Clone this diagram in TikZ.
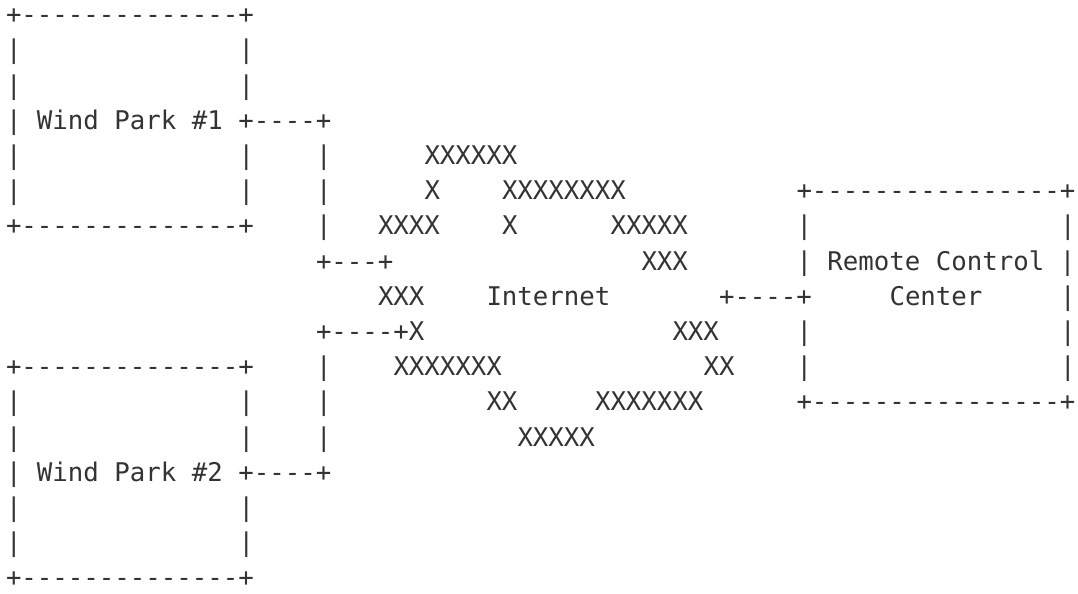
\documentclass[tikz,border=0pt]{standalone}
\usepackage{fontspec}
\setmonofont{DejaVu Sans Mono}
\usepackage{tikz}
\definecolor{inkGray}{HTML}{333333}

\begin{document}
\begin{tikzpicture}[%%
  x=7.75pt,y=-17.6pt,%%
  charStyle/.style={anchor=base west,inner sep=0pt,outer sep=0pt,%%
    text=inkGray,font=\ttfamily\fontsize{12.87pt}{15pt}\selectfont}%%
]
%%
%% Page frame, with the margins of the text block.
\path[use as bounding box,fill=white] (-3pt,-5.8pt) rectangle (536pt,-302.8pt);
%%
%% Wind park 1 box and its link.
\node[charStyle] (parkOneTop) at (0,1) {+--------------+};
\node[charStyle] (parkOneLeftA) at (0,2) {|};
\node[charStyle] (parkOneRightA) at (15,2) {|};
\node[charStyle] (parkOneLeftB) at (0,3) {|};
\node[charStyle] (parkOneRightB) at (15,3) {|};
\node[charStyle] (parkOneLabel) at (0,4) {| Wind Park \#1 +----+};
\node[charStyle] (parkOneLeftC) at (0,5) {|};
\node[charStyle] (parkOneRightC) at (15,5) {|};
\node[charStyle] (linkOneA) at (20,5) {|};
\node[charStyle] (parkOneLeftD) at (0,6) {|};
\node[charStyle] (parkOneRightD) at (15,6) {|};
\node[charStyle] (linkOneB) at (20,6) {|};
\node[charStyle] (parkOneBottom) at (0,7) {+--------------+};
\node[charStyle] (linkOneC) at (20,7) {|};
\node[charStyle] (linkOneEnd) at (20,8) {+---+};
%%
%% Internet cloud.
\node[charStyle] (cloudA) at (27,5) {XXXXXX};
\node[charStyle] (cloudB) at (27,6) {X};
\node[charStyle] (cloudC) at (32,6) {XXXXXXXX};
\node[charStyle] (cloudD) at (24,7) {XXXX};
\node[charStyle] (cloudE) at (32,7) {X};
\node[charStyle] (cloudF) at (39,7) {XXXXX};
\node[charStyle] (cloudG) at (41,8) {XXX};
\node[charStyle] (cloudH) at (24,9) {XXX};
\node[charStyle] (internet) at (31,9) {Internet};
\node[charStyle] (cloudI) at (43,10) {XXX};
\node[charStyle] (cloudJ) at (25,11) {XXXXXXX};
\node[charStyle] (cloudK) at (45,11) {XX};
\node[charStyle] (cloudL) at (31,12) {XX};
\node[charStyle] (cloudM) at (38,12) {XXXXXXX};
\node[charStyle] (cloudN) at (33,13) {XXXXX};
%%
%% Remote control center box and its link.
\node[charStyle] (centerTop) at (51,6) {+----------------+};
\node[charStyle] (centerLeftA) at (51,7) {|};
\node[charStyle] (centerRightA) at (68,7) {|};
\node[charStyle] (centerLabel) at (51,8) {| Remote Control |};
\node[charStyle] (centerLink) at (46,9) {+----+};
\node[charStyle] (centerLabelB) at (57,9) {Center};
\node[charStyle] (centerRightB) at (68,9) {|};
\node[charStyle] (centerLeftC) at (51,10) {|};
\node[charStyle] (centerRightC) at (68,10) {|};
\node[charStyle] (centerLeftD) at (51,11) {|};
\node[charStyle] (centerRightD) at (68,11) {|};
\node[charStyle] (centerBottom) at (51,12) {+----------------+};
%%
%% Wind park 2 box and its link.
\node[charStyle] (linkTwoEnd) at (20,10) {+----+X};
\node[charStyle] (parkTwoTop) at (0,11) {+--------------+};
\node[charStyle] (linkTwoA) at (20,11) {|};
\node[charStyle] (parkTwoLeftA) at (0,12) {|};
\node[charStyle] (parkTwoRightA) at (15,12) {|};
\node[charStyle] (linkTwoB) at (20,12) {|};
\node[charStyle] (parkTwoLeftB) at (0,13) {|};
\node[charStyle] (parkTwoRightB) at (15,13) {|};
\node[charStyle] (linkTwoC) at (20,13) {|};
\node[charStyle] (parkTwoLabel) at (0,14) {| Wind Park \#2 +----+};
\node[charStyle] (parkTwoLeftC) at (0,15) {|};
\node[charStyle] (parkTwoRightC) at (15,15) {|};
\node[charStyle] (parkTwoLeftD) at (0,16) {|};
\node[charStyle] (parkTwoRightD) at (15,16) {|};
\node[charStyle] (parkTwoBottom) at (0,17) {+--------------+};
\end{tikzpicture}
\end{document}
